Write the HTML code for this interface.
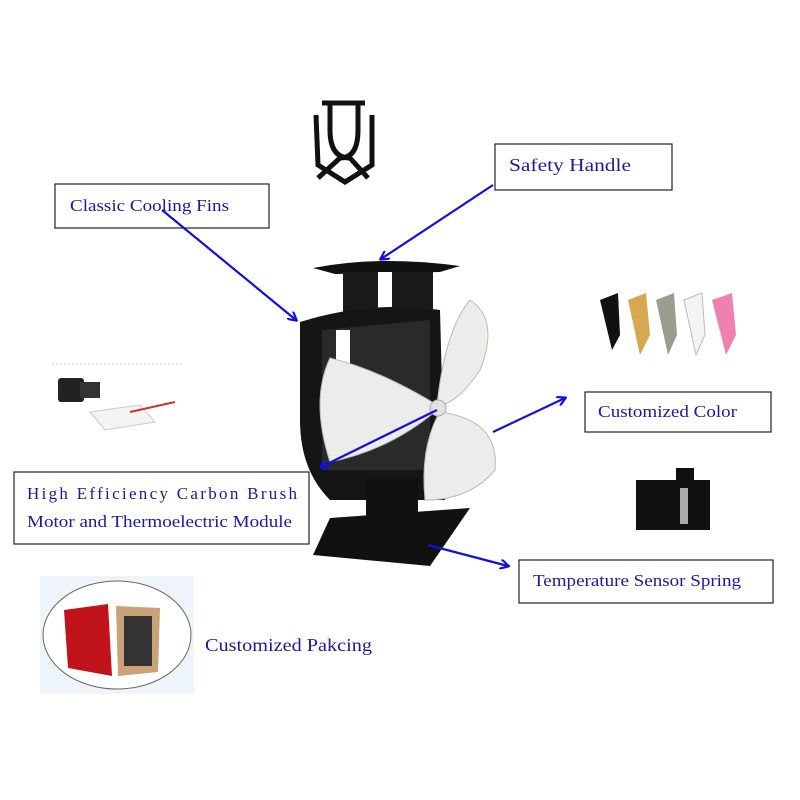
<!DOCTYPE html>
<html><head><style>
body{margin:0;background:#fff;}
svg{display:block;}
text{font-family:"Liberation Serif",serif;fill:#1a1aa0;}
</style></head><body>
<svg width="800" height="800" viewBox="0 0 800 800">
<defs>
<marker id="a" markerWidth="10" markerHeight="10" refX="8" refY="5" orient="auto" markerUnits="userSpaceOnUse"><path d="M0,0 L9,5 L0,10" fill="none" stroke="#1010e0" stroke-width="2.2"/></marker>
</defs>
<rect width="800" height="800" fill="#fff"/>
<!-- handle icon -->
<path d="M322,103 L365,103 M330,103 L330,130 Q330,158 350,158 L368,178 M358,103 L358,130 Q358,158 340,158 L318,178 M316,115 L318,165 L345,182 L372,165 L372,115" fill="none" stroke="#111" stroke-width="5"/>
<!-- fan body -->
<path d="M313,268 Q380,255 460,266 L440,272 L335,274 Z" fill="#111"/>
<rect x="343" y="272" width="90" height="50" fill="#1a1a1a"/>
<rect x="378" y="272" width="14" height="45" fill="#fff"/>
<path d="M300,322 Q370,300 440,310 L445,500 L330,500 Q300,470 300,420 Z" fill="#151515"/>
<path d="M322,330 L430,320 L430,470 L322,470 Z" fill="#2a2a2a"/>
<rect x="336" y="330" width="14" height="70" fill="#fff"/>
<rect x="366" y="478" width="52" height="40" fill="#111"/>
<path d="M330,518 L470,508 L430,566 L313,555 Z" fill="#111"/>
<!-- blades -->
<path d="M437,405 Q380,370 330,358 Q310,400 330,462 Q390,450 437,410 Z" fill="#ececea" stroke="#bbb"/>
<path d="M437,405 Q445,330 470,300 Q500,320 480,370 Q460,400 442,405 Z" fill="#ececea" stroke="#bbb"/>
<path d="M440,412 Q500,420 495,470 Q470,500 425,500 Q420,450 438,415 Z" fill="#ececea" stroke="#bbb"/>
<circle cx="438" cy="408" r="8" fill="#e2e2e2" stroke="#aaa"/>
<!-- boxes -->
<g fill="#fff" stroke="#222" stroke-width="1.2">
<rect x="55" y="184" width="214" height="44"/>
<rect x="495" y="144" width="177" height="46"/>
<rect x="585" y="392" width="186" height="40"/>
<rect x="14" y="472" width="295" height="72"/>
<rect x="519" y="560" width="254" height="43"/>
</g>
<text x="70" y="211" font-size="17" textLength="159" lengthAdjust="spacingAndGlyphs">Classic Cooling Fins</text>
<text x="509" y="171" font-size="18" textLength="122" lengthAdjust="spacingAndGlyphs">Safety Handle</text>
<text x="598" y="417" font-size="17" textLength="139" lengthAdjust="spacingAndGlyphs">Customized Color</text>
<text x="27" y="499" font-size="17" textLength="270" lengthAdjust="spacing">High Efficiency Carbon Brush</text>
<text x="27" y="527" font-size="17" textLength="265" lengthAdjust="spacingAndGlyphs">Motor and Thermoelectric Module</text>
<text x="533" y="586" font-size="17" textLength="208" lengthAdjust="spacingAndGlyphs">Temperature Sensor Spring</text>
<text x="205" y="651" font-size="18" textLength="167" lengthAdjust="spacingAndGlyphs">Customized Pakcing</text>
<!-- arrows -->
<g stroke="#1010e0" stroke-width="2.2" marker-end="url(#a)">
<line x1="162" y1="210" x2="296" y2="320"/>
<line x1="493" y1="185" x2="381" y2="259"/>
<line x1="493" y1="432" x2="565" y2="398"/>
<line x1="437" y1="410" x2="321" y2="467"/>
<line x1="428" y1="545" x2="508" y2="566"/>
</g>
<!-- motor parts -->
<line x1="52" y1="364" x2="182" y2="364" stroke="#ccc" stroke-dasharray="2,2"/>
<rect x="58" y="378" width="26" height="24" rx="3" fill="#222"/>
<rect x="80" y="382" width="20" height="16" fill="#333"/>
<path d="M90,412 L140,405 L155,422 L105,430 Z" fill="#f3f3f3" stroke="#ccc"/>
<path d="M130,412 L175,402" stroke="#c33" stroke-width="2"/>
<!-- colors -->
<g>
<path d="M600,300 L618,293 L620,335 L612,350 Z" fill="#111"/>
<path d="M628,300 L646,293 L650,335 L640,355 Z" fill="#d8a850"/>
<path d="M656,300 L674,293 L677,335 L668,355 Z" fill="#9a9e8e"/>
<path d="M684,300 L702,293 L705,335 L696,355 Z" fill="#f4f4f4" stroke="#bbb"/>
<path d="M712,300 L732,293 L736,335 L726,355 Z" fill="#f080b0"/>
</g>
<!-- sensor spring -->
<rect x="636" y="480" width="74" height="50" fill="#111"/>
<rect x="676" y="468" width="18" height="14" fill="#111"/>
<rect x="680" y="488" width="8" height="36" fill="#aaa"/>
<!-- packaging -->
<rect x="40" y="576" width="154" height="118" fill="#eef5fa"/>
<ellipse cx="117" cy="635" rx="74" ry="54" fill="#fff" stroke="#666"/>
<path d="M64,610 L108,604 L112,676 L68,668 Z" fill="#c0141a"/>
<path d="M116,606 L160,608 L158,672 L118,676 Z" fill="#caa278"/>
<rect x="124" y="616" width="28" height="50" fill="#333"/>
</svg>
</body></html>
